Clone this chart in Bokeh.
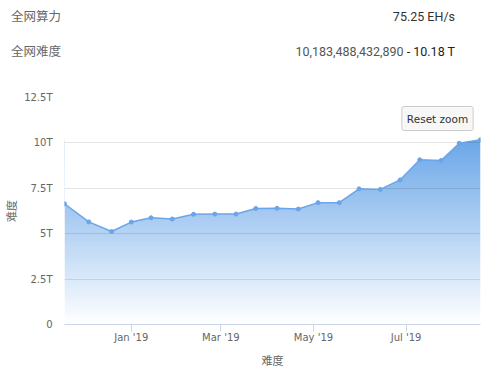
import numpy as np
import pandas as pd
from bokeh.plotting import figure
from bokeh.layouts import column
from bokeh.models import Range1d, FixedTicker, Label, Div
from bokeh.embed import file_html
from bokeh.resources import INLINE

# ---- data ----
dates = ["2018-11-18", "2018-12-04", "2018-12-19", "2019-01-01", "2019-01-14",
         "2019-01-28", "2019-02-11", "2019-02-25", "2019-03-11", "2019-03-24",
         "2019-04-07", "2019-04-21", "2019-05-04", "2019-05-18", "2019-05-31",
         "2019-06-14", "2019-06-27", "2019-07-10", "2019-07-24", "2019-08-05",
         "2019-08-19"]
difficulty_T = [6.65, 5.65, 5.12, 5.64, 5.88, 5.81, 6.07, 6.08, 6.08, 6.39,
                6.40, 6.36, 6.71, 6.71, 7.47, 7.44, 7.96, 9.07, 9.03, 9.98, 10.18]

ytick_values = [0, 2.5, 5, 7.5, 10, 12.5]
ytick_labels = ["0", "2.5T", "5T", "7.5T", "10T", "12.5T"]
xtick_dates = ["2019-01-01", "2019-03-01", "2019-05-01", "2019-07-01"]
xtick_labels = ["Jan '19", "Mar '19", "May '19", "Jul '19"]

hash_label = "全网算力"
hash_value = "75.25 EH/s"
diff_label = "全网难度"
diff_full = "10,183,488,432,890"
diff_short = "- 10.18 T"
axis_title = "难度"
button_text = "Reset zoom"

# ---- derived ----
x = (pd.to_datetime(dates).astype("int64") // 10**6).astype(float).to_numpy()
y = np.array(difficulty_T)
xt = (pd.to_datetime(xtick_dates).astype("int64") // 10**6).tolist()

LINE = "#6aa5e7"
TOP = np.array([106, 166, 232])
CJK = "'Noto Sans CJK SC'"
TICK_FONT = "'DejaVu Sans'"

# ---- header (info rows) ----
span = ("position:absolute;top:{top}px;{side}:{pos}px;color:{color};"
        "white-space:nowrap;line-height:17px;")
header_html = (
    "<div style=\"position:relative;width:500px;height:80px;margin:0;padding:0;"
    "font-family:Roboto,'Noto Sans CJK SC',sans-serif;font-size:12.5px;\">"
    f"<span style=\"{span.format(top=8, side='left', pos=11, color='#666666')}\">{hash_label}</span>"
    f"<span style=\"{span.format(top=8, side='right', pos=45, color='#333333')}\">{hash_value}</span>"
    f"<span style=\"{span.format(top=43, side='left', pos=11, color='#666666')}\">{diff_label}</span>"
    f"<span style=\"{span.format(top=43, side='right', pos=45, color='#555555')}\">{diff_full} "
    f"<span style=\"color:#222222\">{diff_short}</span></span>"
    "</div>"
)
h = Div(text=header_html, width=500, height=80, margin=0)

# ---- main chart ----
p = figure(width=500, height=293, x_axis_type="datetime",
           output_backend="svg", toolbar_location=None,
           x_range=Range1d(x[0], x[-1]),
           y_range=Range1d(ytick_values[0], ytick_values[-1]),
           min_border_left=64, min_border_right=20,
           min_border_top=17, min_border_bottom=49)
p.outline_line_color = None
p.background_fill_color = "white"
p.border_fill_color = "white"

# gradient fill (opaque blend with white), masked above the series
N = 256
t = np.linspace(0, 1, N)
rgb = 255 * (1 - t)[:, None] + TOP[None, :] * t[:, None]
img = np.empty((N, 2), dtype=np.uint32)
view = img.view(dtype=np.uint8).reshape((N, 2, 4))
view[:, :, 0:3] = np.round(rgb).astype(np.uint8)[:, None, :]
view[:, :, 3] = 255
p.image_rgba(image=[img], x=x[0], y=0, dw=x[-1] - x[0], dh=float(y.max()),
             level="image")
p.varea(x=x, y1=y, y2=ytick_values[-1], fill_color="white", level="image")

p.line(x, y, line_color=LINE, line_width=1.5)
p.scatter(x, y, size=4, fill_color=LINE, line_color=LINE)

# grid
p.xgrid.visible = False
p.ygrid.ticker = FixedTicker(ticks=ytick_values)
p.ygrid.grid_line_color = "black"
p.ygrid.grid_line_alpha = 0.1
p.ygrid.grid_line_width = 1

# x axis
xa = p.xaxis[0]
xa.ticker = FixedTicker(ticks=xt)
xa.major_label_overrides = {v: lab for v, lab in zip(xt, xtick_labels)}
xa.axis_line_color = "#ccd6eb"
xa.major_tick_line_color = "#ccd6eb"
xa.major_tick_out = 7
xa.major_tick_in = 0
xa.minor_tick_line_color = None
xa.major_label_standoff = 0
xa.major_label_text_color = "#666666"
xa.major_label_text_font = TICK_FONT
xa.major_label_text_font_size = "10px"
xa.axis_label = axis_title
xa.axis_label_text_font = CJK
xa.axis_label_text_font_style = "normal"
xa.axis_label_text_font_size = "11px"
xa.axis_label_text_color = "#666666"
xa.axis_label_standoff = 6

# y axis
ya = p.yaxis[0]
ya.ticker = FixedTicker(ticks=ytick_values)
ya.major_label_overrides = {v: lab for v, lab in zip(ytick_values, ytick_labels)}
ya.axis_line_color = None
ya.major_tick_line_color = None
ya.minor_tick_line_color = None
ya.major_tick_out = 0
ya.major_tick_in = 0
ya.major_label_standoff = 12
ya.major_label_text_color = "#666666"
ya.major_label_text_font = TICK_FONT
ya.major_label_text_font_size = "10px"
ya.axis_label = axis_title
ya.axis_label_text_font = CJK
ya.axis_label_text_font_style = "normal"
ya.axis_label_text_font_size = "11px"
ya.axis_label_text_color = "#666666"
ya.axis_label_standoff = 2

p.add_layout(Label(x=373, y=206, x_units="screen", y_units="screen",
                   text=button_text, text_align="center", text_baseline="middle",
                   text_color="#333333", text_font=TICK_FONT,
                   text_font_size="10.5px", background_fill_color="#f7f7f7",
                   border_line_color="#cccccc", border_line_width=1,
                   padding=(5, 6), border_radius=2))

layout = column(h, p, spacing=0)
open("out.html", "w").write(file_html(layout, INLINE))
